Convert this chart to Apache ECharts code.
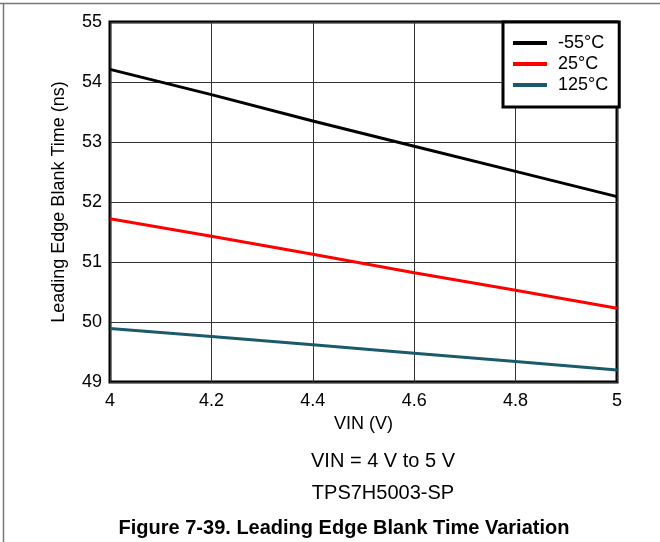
<!DOCTYPE html>
<html>
<head>
<meta charset="utf-8">
<script src="https://cdn.jsdelivr.net/npm/echarts@6/dist/echarts.min.js"></script>
<style>
html,body{margin:0;padding:0;background:#fff;}
#chart{width:660px;height:542px;}
</style>
</head>
<body>
<div id="chart"></div>
<script>
const vin = [4.0, 4.2, 4.4, 4.6, 4.8, 5.0];
const tMinus55 = [54.21, 53.79, 53.35, 52.93, 52.51, 52.09];
const t25 = [51.72, 51.43, 51.13, 50.82, 50.53, 50.23];
const t125 = [49.89, 49.76, 49.62, 49.48, 49.34, 49.20];
const seriesNames = ['-55°C', '25°C', '125°C'];
const seriesColors = ['#000000', '#ff0000', '#1b5a6b'];
const xTitle = 'VIN (V)';
const yTitle = 'Leading Edge Blank Time (ns)';
const note1 = 'VIN = 4 V to 5 V';
const note2 = 'TPS7H5003-SP';
const caption = 'Figure 7-39. Leading Edge Blank Time Variation';

const FONT = 'Liberation Sans, Arial, sans-serif';
const chart = echarts.init(document.getElementById('chart'), null, {renderer: 'canvas'});
const pair = (xs, ys) => xs.map((x, i) => [x, ys[i]]);
const seriesData = [tMinus55, t25, t125];

chart.setOption({
  animation: false,
  backgroundColor: '#ffffff',
  textStyle: {fontFamily: FONT},
  grid: {left: 110, right: 43, top: 22, bottom: 160, show: true, borderColor: '#000', borderWidth: 3, backgroundColor: 'transparent'},
  xAxis: {
    type: 'value', min: 4, max: 5, interval: 0.2,
    name: xTitle, nameLocation: 'middle', nameGap: 28,
    nameTextStyle: {fontSize: 18, color: '#000', fontFamily: FONT},
    axisLine: {show: false}, axisTick: {show: false},
    axisLabel: {fontSize: 18, color: '#000', margin: 10, fontFamily: FONT,
      formatter: v => String(+v.toFixed(1))},
    splitLine: {show: true, lineStyle: {color: '#333', width: 1}}
  },
  yAxis: {
    type: 'value', min: 49, max: 55, interval: 1,
    name: yTitle, nameLocation: 'middle', nameGap: 42, nameRotate: 90,
    nameTextStyle: {fontSize: 18, color: '#000', fontFamily: FONT},
    axisLine: {show: false}, axisTick: {show: false},
    axisLabel: {fontSize: 18, color: '#000', margin: 8, fontFamily: FONT},
    splitLine: {show: true, lineStyle: {color: '#333', width: 1}}
  },
  legend: {
    orient: 'vertical', left: 503, top: 22,
    backgroundColor: '#fff', borderColor: '#000', borderWidth: 3,
    padding: [12, 11, 13, 10],
    itemGap: 3, itemWidth: 34, itemHeight: 4, icon: 'rect',
    textStyle: {fontSize: 18, color: '#000', lineHeight: 18, padding: [0, 0, 0, 6], fontFamily: FONT},
    data: seriesNames
  },
  title: [
    {text: note1, left: 378, top: 446, textAlign: 'center', textStyle: {fontSize: 20, fontWeight: 'normal', color: '#000', fontFamily: FONT}},
    {text: note2, left: 378, top: 478, textAlign: 'center', textStyle: {fontSize: 20, fontWeight: 'normal', color: '#000', fontFamily: FONT}},
    {text: caption, left: 339, top: 513, textAlign: 'center', textStyle: {fontSize: 20, fontWeight: 'bold', color: '#000', fontFamily: FONT}}
  ],
  graphic: [
    {type: 'line', shape: {x1: 0, y1: 3.5, x2: 660, y2: 3.5}, style: {stroke: '#777', lineWidth: 1.5}, silent: true},
    {type: 'line', shape: {x1: 3.5, y1: 3.5, x2: 3.5, y2: 542}, style: {stroke: '#777', lineWidth: 1.5}, silent: true}
  ],
  series: seriesNames.map((n, i) => ({
    name: n, type: 'line', data: pair(vin, seriesData[i]),
    showSymbol: false, symbol: 'none',
    lineStyle: {color: seriesColors[i], width: 3},
    itemStyle: {color: seriesColors[i]},
    z: 3
  }))
});
</script>
</body>
</html>
